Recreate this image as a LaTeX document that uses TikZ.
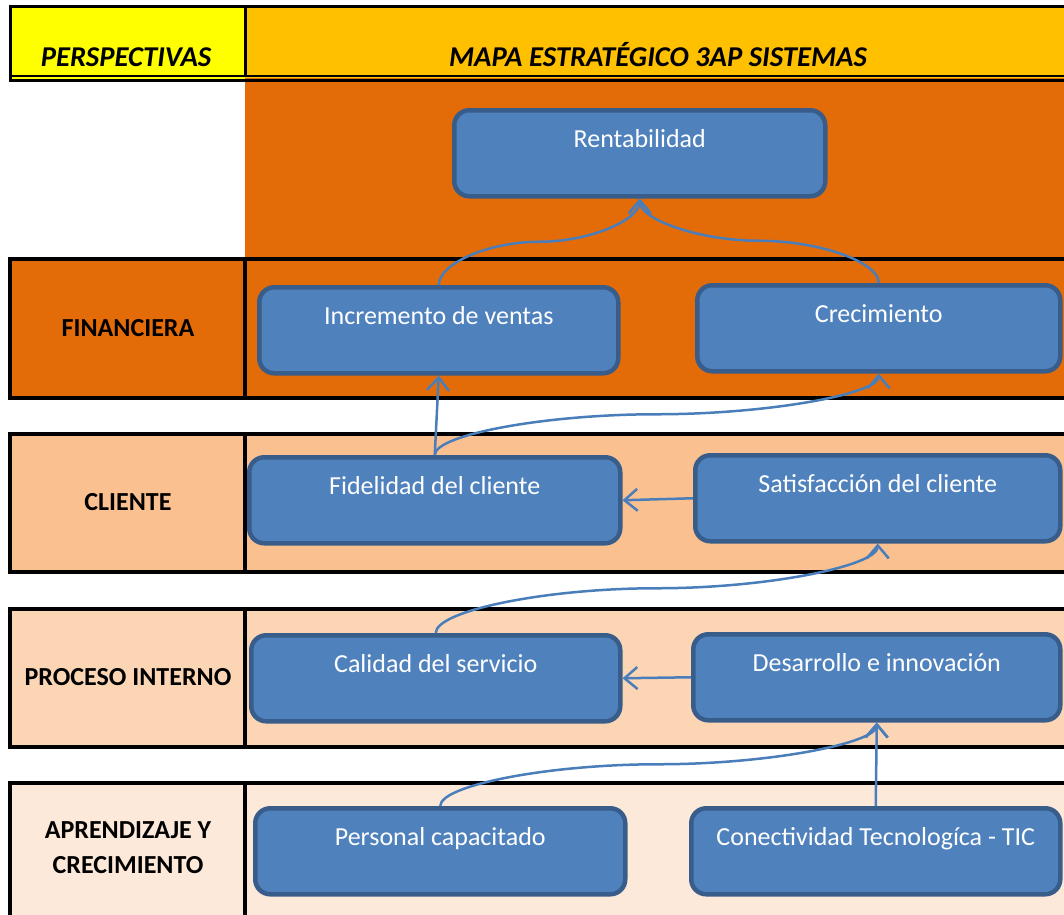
\documentclass[tikz,border=0pt]{standalone}
\usepackage{fontspec}
\setmainfont{Carlito}
\usetikzlibrary{arrows.meta,calc}
\definecolor{hdryellow}{HTML}{FFFF00}
\definecolor{hdrorange}{HTML}{FFC000}
\definecolor{darkor}{HTML}{E36C09}
\definecolor{clientfill}{HTML}{FAC090}
\definecolor{procfill}{HTML}{FCD5B4}
\definecolor{aprfill}{HTML}{FDE9D9}
\definecolor{boxfill}{HTML}{4F81BD}
\definecolor{boxline}{HTML}{385D8A}
\definecolor{connc}{HTML}{4A7EBB}
\begin{document}
\begin{tikzpicture}[x=1pt,y=-1pt,
  objbox/.style={draw=boxline, line width=4.5pt, fill=boxfill, rounded corners=15pt,
    text=white, font=\fontsize{26}{30}\selectfont, inner sep=0pt,
    text height=37pt, text depth=49pt, anchor=north west},
  lbl/.style={font=\bfseries\fontsize{26}{30}\selectfont, anchor=base, inner sep=0pt},
  hdr/.style={font=\bfseries\itshape\fontsize{28.7}{33}\selectfont, anchor=base, inner sep=0pt},
  rowband/.style={draw=black, line width=4pt},
  conn/.style={draw=connc, line width=2.5pt, -{Straight Barb[length=13pt,width=22pt]}},
  scurve/.style={to path={let \p1=(\tikztostart), \p2=(\tikztotarget) in
    .. controls (\x1,{\y1+(\y2-\y1)/4}) and ({\x1+(\x2-\x1)/4},{(\y1+\y2)/2})
    .. ({(\x1+\x2)/2},{(\y1+\y2)/2})
    .. controls ({\x1+3*(\x2-\x1)/4},{(\y1+\y2)/2}) and (\x2,{\y1+3*(\y2-\y1)/4})
    .. (\x2,\y2)}}]
\useasboundingbox (0,0) rectangle (1064,914);
\clip (0,0) rectangle (1064,914);
% header
\fill[hdryellow] (10,6) rectangle (245,80);
\fill[hdrorange] (245,6) rectangle (1080,80);
\fill[darkor] (245,78) rectangle (1080,259);
\draw[line width=3pt] (10,6) -- (1080,6);
\draw[line width=3pt] (10,4.5) -- (10,81.5);
\draw[line width=3pt] (245,6) -- (245,76);
\draw[line width=2.5pt] (8.5,76) -- (1080,76);
\draw[line width=2.5pt] (8.5,80.5) -- (1080,80.5);
% rows
\draw[rowband, fill=darkor] (10,259) rectangle (1080,398);
\draw[rowband] (245,259) -- (245,398);
\draw[rowband, fill=clientfill] (10,434) rectangle (1080,572);
\draw[rowband] (245,434) -- (245,572);
\draw[rowband, fill=procfill] (10,609) rectangle (1080,747);
\draw[rowband] (245,609) -- (245,747);
\draw[rowband, fill=aprfill] (10,783) rectangle (1080,940);
\draw[rowband] (245,783) -- (245,940);
% header texts
\node[hdr] (hp) at (126,66) {PERSPECTIVAS};
\node[hdr] (hm) at (658,66) {MAPA ESTRATÉGICO 3AP SISTEMAS};
% row labels
\node[lbl] (lf) at (128,336) {FINANCIERA};
\node[lbl] (lc) at (128,510) {CLIENTE};
\node[lbl] (lp) at (128,685) {PROCESO INTERNO};
\node[lbl] (la1) at (128,838) {APRENDIZAJE Y};
\node[lbl] (la2) at (128,873) {CRECIMIENTO};
% objective boxes
\node[objbox, minimum width=371pt] (rent) at (452,108) {Rentabilidad};
\node[objbox, minimum width=359pt] (inc) at (257,285) {Incremento de ventas};
\node[objbox, minimum width=363pt] (crec) at (695,283) {Crecimiento};
\node[objbox, minimum width=371pt] (fid) at (247,455) {Fidelidad del cliente};
\node[objbox, minimum width=365pt] (sat) at (693,453) {Satisfacción del cliente};
\node[objbox, minimum width=369pt] (cal) at (249,633) {Calidad del servicio};
\node[objbox, minimum width=367pt] (des) at (691,632) {Desarrollo e innovación};
\node[objbox, minimum width=370pt] (per) at (253,806) {Personal capacitado};
\node[objbox, minimum width=369pt] (con) at (689,806) {Conectividad Tecnologíca - TIC};
% connectors
\draw[conn] (inc.north) to[scurve] (rent.south);
\draw[conn] (crec.north) to[scurve] (rent.south);
\draw[conn] (fid.north) -- (inc.south);
\draw[conn] (fid.north) to[scurve] (crec.south);
\draw[conn] (sat.west) -- (fid.east);
\draw[conn] (cal.north) to[scurve] (sat.south);
\draw[conn] (des.west) -- (cal.east);
\draw[conn] (per.north) to[scurve] (des.south);
\draw[conn] (con.north) -- (des.south);
\end{tikzpicture}
\end{document}
